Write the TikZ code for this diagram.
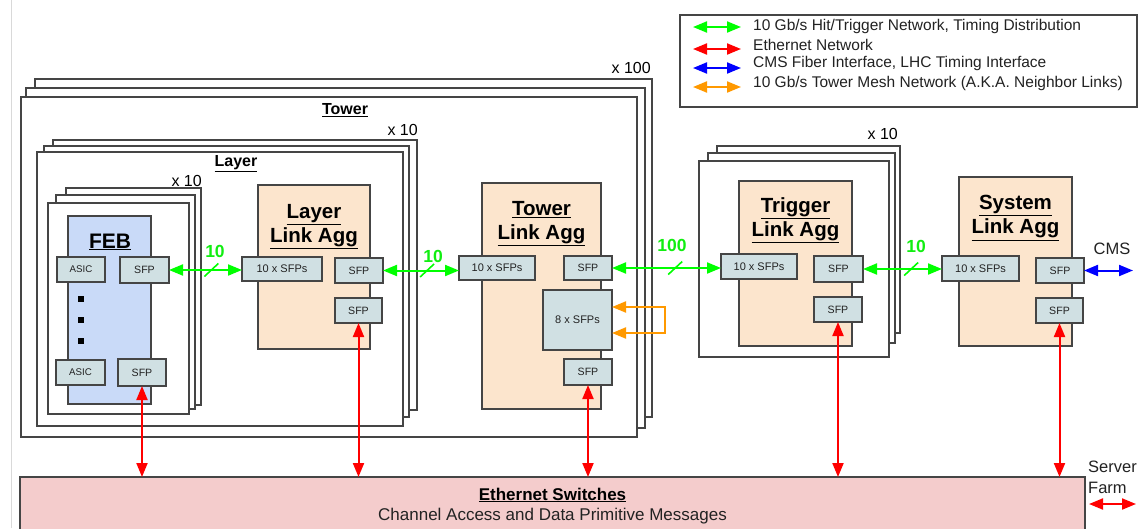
\documentclass[tikz,border=0pt]{standalone}
\usepackage{fontspec}
\setmainfont{Liberation Sans}
\usetikzlibrary{arrows.meta,calc}
\definecolor{bord}{HTML}{454545}
\definecolor{txt}{HTML}{222222}
\definecolor{febblue}{HTML}{C9DAF8}
\definecolor{peach}{HTML}{FCE5CD}
\definecolor{sfpc}{HTML}{D0E0E3}
\definecolor{ethc}{HTML}{F4CCCC}
\definecolor{gnet}{HTML}{00FF00}
\definecolor{glab}{HTML}{11EE11}
\definecolor{rnet}{HTML}{FF0000}
\definecolor{bnet}{HTML}{0000FF}
\definecolor{onet}{HTML}{FF9900}
\tikzset{
  frame/.style={draw=bord, line width=1.2pt, fill=white},
  box/.style={draw=bord, line width=1.2pt, inner sep=0pt, outer sep=0pt, text=txt},
  sfp/.style={box, fill=sfpc, font=\fontsize{10.6}{12}\selectfont},
  sfps/.style={box, fill=sfpc, font=\fontsize{11}{12}\selectfont},
  asic/.style={box, fill=sfpc, font=\fontsize{9.7}{11}\selectfont},
  agg/.style={box, fill=peach},
  ttl/.style={font=\fontsize{20.5}{24}\selectfont\bfseries, align=center, text=black, inner sep=0pt},
  lbl/.style={font=\fontsize{16}{18}\selectfont, text=black, inner sep=0pt},
  glbl/.style={font=\fontsize{17.5}{18}\selectfont\bfseries, text=glab, inner sep=0pt},
  legtxt/.style={font=\fontsize{15.5}{18}\selectfont, text=txt, anchor=west, inner sep=0pt},
  tipboth/.style={{Triangle[length=14pt,width=11pt]}-{Triangle[length=14pt,width=11pt]}},
  garr/.style={tipboth, draw=gnet, line width=2pt},
  rarr/.style={tipboth, draw=rnet, line width=2pt},
  barr/.style={tipboth, draw=bnet, line width=2pt},
  oarr/.style={tipboth, draw=onet, line width=2pt},
  slash/.style={draw=gnet, line width=1.6pt},
}
\begin{document}
\begin{tikzpicture}[x=1pt,y=-1pt]
\clip (0,0) rectangle (1138,528);
\fill[white] (0,0) rectangle (1138,528);
\draw[black!15, line width=0.8pt] (11,0) -- (11,528);

% Tower stack x100
\draw[frame] (35,79) rectangle (652,417);
\draw[frame] (26,88) rectangle (645,428);
\draw[frame] (21,97) rectangle (637,437);
\node[lbl, anchor=east] (x100) at (651,68) {x 100};
\node[lbl, font=\fontsize{16}{18}\selectfont\bfseries] (towerlbl) at (345,110) {\underline{Tower}};

% Layer stack x10
\draw[frame] (53,140) rectangle (417,410);
\draw[frame] (44,146) rectangle (409,417);
\draw[frame] (37,152) rectangle (403,426);
\node[lbl, anchor=east] (x10a) at (418,130) {x 10};
\node[lbl, font=\fontsize{16}{18}\selectfont\bfseries] (layerlbl) at (236,164) {\underline{Layer}};

% FEB stack x10
\draw[frame] (66,188) rectangle (201,405);
\draw[frame] (56,195) rectangle (195,409);
\draw[frame] (48,203) rectangle (189,414);
\node[lbl, anchor=east] (x10b) at (202,181) {x 10};

% FEB
\node[box, fill=febblue, minimum width=83pt, minimum height=188pt] (feb) at (109.5,310) {};
\node[font=\fontsize{21}{24}\selectfont\bfseries, inner sep=0pt] (febt) at (110,242) {\underline{FEB}};
\node[asic, minimum width=48pt, minimum height=25pt] (asic1) at (81,269.5) {ASIC};
\node[sfp, minimum width=49pt, minimum height=26pt] (febsfp1) at (144.5,270) {SFP};
\node[asic, minimum width=49pt, minimum height=25pt] (asic2) at (80.5,372.5) {ASIC};
\node[sfp, minimum width=48pt, minimum height=27pt] (febsfp2) at (142,372.5) {SFP};
\foreach \yy/\nm in {299/d1,320/d2,341/d3}
  \node[fill=black, minimum size=6pt, inner sep=0pt] (\nm) at (81,\yy) {};

% Layer Link Agg
\node[agg, minimum width=112pt, minimum height=164pt] (lagg) at (314,267) {};
\node[ttl] (laggt) at (314,226.5) {\underline{Layer}\\\underline{Link Agg}};
\node[sfps, minimum width=80pt, minimum height=24pt] (l10) at (282,269) {10 x SFPs};
\node[sfp, minimum width=48pt, minimum height=25pt] (lsfp1) at (359,270.5) {SFP};
\node[sfp, minimum width=47pt, minimum height=25pt] (lsfp2) at (358.5,310.5) {SFP};

% Tower Link Agg
\node[agg, minimum width=119pt, minimum height=226pt] (tagg) at (541.5,296) {};
\node[ttl] (taggt) at (541.5,224) {\underline{Tower}\\\underline{Link Agg}};
\node[sfps, minimum width=76pt, minimum height=24pt] (t10) at (497,268) {10 x SFPs};
\node[sfp, minimum width=48pt, minimum height=24pt] (tsfp1) at (588,268) {SFP};
\node[sfps, minimum width=69pt, minimum height=60pt] (t8) at (577.5,320) {8 x SFPs};
\node[sfp, minimum width=48pt, minimum height=26pt] (tsfp2) at (588,372) {SFP};

% Trigger stack x10
\draw[frame] (717,146) rectangle (900,333);
\draw[frame] (708,153) rectangle (895,343);
\draw[frame] (699,161) rectangle (889,357);
\node[lbl, anchor=east] (x10c) at (898,134) {x 10};

% Trigger Link Agg
\node[agg, minimum width=113pt, minimum height=165pt] (gagg) at (795.5,263.5) {};
\node[ttl] (gaggt) at (795.5,220.5) {\underline{Trigger}\\\underline{Link Agg}};
\node[sfps, minimum width=76pt, minimum height=25pt] (g10) at (759,266.5) {10 x SFPs};
\node[sfp, minimum width=49pt, minimum height=26pt] (gsfp1) at (838.5,269) {SFP};
\node[sfp, minimum width=48pt, minimum height=25pt] (gsfp2) at (838,309.5) {SFP};

% System Link Agg
\node[agg, minimum width=113pt, minimum height=169pt] (sagg) at (1015.5,261.5) {};
\node[ttl] (saggt) at (1015.5,218) {\underline{System}\\\underline{Link Agg}};
\node[sfps, minimum width=77pt, minimum height=25pt] (s10) at (980.5,268.5) {10 x SFPs};
\node[sfp, minimum width=48pt, minimum height=25pt] (ssfp1) at (1060,270.5) {SFP};
\node[sfp, minimum width=47pt, minimum height=25pt] (ssfp2) at (1059.5,310.5) {SFP};

% Ethernet switches
\node[box, fill=ethc, minimum width=1065pt, minimum height=70pt] (eth) at (552.5,512) {};
\node[font=\fontsize{17}{20}\selectfont\bfseries, inner sep=0pt] (etht) at (552.5,495) {\underline{Ethernet Switches}};
\node[font=\fontsize{17}{20}\selectfont, inner sep=0pt, text=txt] (eths) at (552.5,516) {Channel Access and Data Primitive Messages};

% Green links
\draw[garr] (febsfp1.east) -- coordinate[pos=0.58] (s1) (febsfp1.east -| l10.west);
\draw[slash] ($(s1)+(-7,6.5)$) -- ($(s1)+(7,-6.5)$);
\node[glbl] (g1) at (215,251) {10};
\draw[garr] (lsfp1.east) -- coordinate[pos=0.58] (s2) (lsfp1.east -| t10.west);
\draw[slash] ($(s2)+(-7,6.5)$) -- ($(s2)+(7,-6.5)$);
\node[glbl] (g2) at (433,256) {10};
\draw[garr] (tsfp1.east) -- coordinate[pos=0.58] (s3) (tsfp1.east -| g10.west);
\draw[slash] ($(s3)+(-7,6.5)$) -- ($(s3)+(7,-6.5)$);
\node[glbl] (g3) at (672,245) {100};
\draw[garr] (gsfp1.east) -- coordinate[pos=0.61] (s4) (gsfp1.east -| s10.west);
\draw[slash] ($(s4)+(-7,6.5)$) -- ($(s4)+(7,-6.5)$);
\node[glbl] (g4) at (916,246) {10};

% Orange loop
\coordinate (o1) at (665,307);
\coordinate (o2) at (665,333);
\draw[oarr] (t8.east |- o1) -- (o1) -- (o2) -- (t8.east |- o2);

% CMS
\coordinate (cmsend) at (1133,270.5);
\draw[barr] (ssfp1.east) -- (cmsend);
\node[font=\fontsize{16.5}{18}\selectfont, inner sep=0pt, text=txt] (cms) at (1112,249) {CMS};

% Red links
\draw[rarr] (febsfp2.south) -- (febsfp2.south |- eth.north);
\draw[rarr] (lsfp2.south) -- (lsfp2.south |- eth.north);
\draw[rarr] (tsfp2.south) -- (tsfp2.south |- eth.north);
\draw[rarr] (gsfp2.south) -- (gsfp2.south |- eth.north);
\draw[rarr] (ssfp2.south) -- (ssfp2.south |- eth.north);

% Server farm
\node[font=\fontsize{16.5}{21}\selectfont, inner sep=0pt, text=txt, anchor=west, align=left] (srv) at (1088,477) {Server\\Farm};
\coordinate (sf1) at (1089,504);
\coordinate (sf2) at (1136,504);
\draw[rarr] (sf1) -- (sf2);

% Legend
\node[box, minimum width=457pt, minimum height=92pt] (legend) at (908.5,61) {};
\foreach \yy/\cc/\nm in {27/gnet/la,49/rnet/lb,68/bnet/lc,87/onet/ld}{
  \coordinate (\nm1) at (693,\yy);
  \coordinate (\nm2) at (741,\yy);
  \draw[tipboth, draw=\cc, line width=2pt] (\nm1) -- (\nm2);
}
\node[legtxt] (lt1) at (753,26) {10 Gb/s Hit/Trigger Network, Timing Distribution};
\node[legtxt] (lt2) at (753,44.5) {Ethernet Network};
\node[legtxt] (lt3) at (753,63.5) {CMS Fiber Interface, LHC Timing Interface};
\node[legtxt] (lt4) at (753,83) {10 Gb/s Tower Mesh Network (A.K.A. Neighbor Links)};
\end{tikzpicture}
\end{document}
